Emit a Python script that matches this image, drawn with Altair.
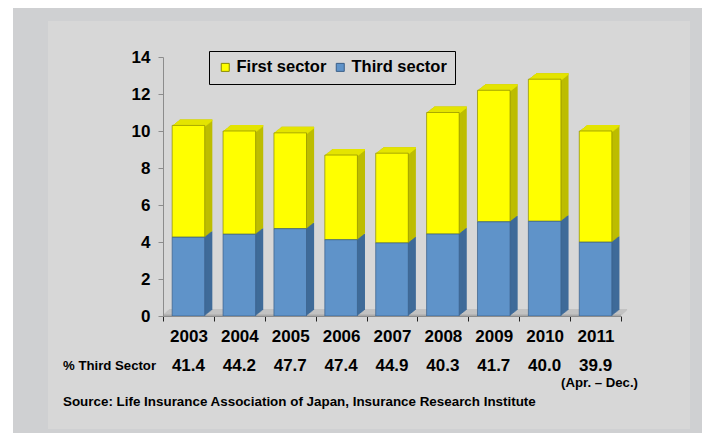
import altair as alt
import pandas as pd

# ---- data ----
years = ["2003", "2004", "2005", "2006", "2007", "2008", "2009", "2010", "2011"]
third_sector = [4.26, 4.42, 4.72, 4.12, 3.95, 4.43, 5.09, 5.12, 3.99]
first_sector = [6.04, 5.58, 5.18, 4.58, 4.85, 6.57, 7.11, 7.68, 6.01]
pct_third = ["41.4", "44.2", "47.7", "47.4", "44.9", "40.3", "41.7", "40.0", "39.9"]
series_names = ["First sector", "Third sector"]
y_ticks = [0, 2, 4, 6, 8, 10, 12, 14]
row_label = "% Third Sector"
note_2011 = "(Apr. – Dec.)"
source_text = "Source: Life Insurance Association of Japan, Insurance Research Institute"

# ---- style ----
W, H = 458, 259
FONT = "Liberation Sans"
OUTER = "#cfd0d2"
INNER = "#d7d7d7"
YELLOW, YELLOW_TOP, YELLOW_SIDE, YELLOW_EDGE = "#ffff00", "#e4e400", "#bdbd00", "#8a8a00"
BLUE, BLUE_SIDE, BLUE_EDGE = "#5f93c9", "#3f6b99", "#3a5f88"
BAR_W = alt.RelativeBandSize(0.64)
N_STEPS = 8
DX, DY = 0.95, 0.75

totals = [t + f for t, f in zip(third_sector, first_sector)]
blue_df = pd.DataFrame({"year": years, "series": "Third sector", "lo": [0.0] * len(years), "hi": third_sector})
yellow_df = pd.DataFrame({"year": years, "series": "First sector", "lo": third_sector, "hi": totals})
seg_df = pd.concat([yellow_df, blue_df], ignore_index=True)
pct_df = pd.DataFrame({"year": years, "pct": pct_third})
one = pd.DataFrame({"a": [0]})

x_enc = alt.X(
    "year:N", sort=years,
    scale=alt.Scale(domain=years, paddingInner=0, paddingOuter=0),
    axis=alt.Axis(title=None, labelAngle=0, tickBand="extent", labelFont=FONT,
                  labelFontSize=17, labelFontWeight="bold", labelColor="black",
                  tickColor="#222222", tickSize=5, domainColor="#8c8c8c",
                  labelPadding=7, zindex=1),
)
y_enc = alt.Y(
    "hi:Q", scale=alt.Scale(domain=[0, 14], nice=False),
    axis=alt.Axis(title=None, values=y_ticks, labelFont=FONT, labelFontSize=17,
                  labelFontWeight="bold", labelColor="black", tickColor="#8c8c8c",
                  tickSize=5, domainColor="#8c8c8c", labelPadding=8, grid=False, zindex=1),
)

layers = []
# backgrounds
layers.append(alt.Chart(one).mark_rect(color=OUTER).encode(
    x=alt.value(-150), x2=alt.value(600), y=alt.value(-49), y2=alt.value(420)))
layers.append(alt.Chart(one).mark_rect(color=INNER).encode(
    x=alt.value(-115), x2=alt.value(527), y=alt.value(-36), y2=alt.value(372)))

# floor
for k in range(N_STEPS, -1, -1):
    layers.append(alt.Chart(one).mark_rect(color="#c2c2c2" if k > 0 else "#a9a9a9").encode(
        x=alt.value(k * DX * 0.8), x2=alt.value(W + k * DX * 0.8),
        y=alt.value(H - k * DY * 0.9 - 1.6), y2=alt.value(H - k * DY * 0.9)))

# extrusions (side faces)
for df, col in [(blue_df, BLUE_SIDE), (yellow_df, YELLOW_SIDE)]:
    for k in range(N_STEPS, 0, -1):
        layers.append(alt.Chart(df).mark_bar(
            width=BAR_W, color=col, xOffset=k * DX, yOffset=-k * DY, y2Offset=-k * DY
        ).encode(x=x_enc, y=y_enc, y2=alt.Y2("lo:Q")))
# top faces
for k in range(N_STEPS, 0, -1):
    layers.append(alt.Chart(yellow_df).mark_bar(
        width=BAR_W, color=YELLOW_TOP, xOffset=k * DX, yOffset=-k * DY, y2Offset=-k * DY + 1.8
    ).encode(x=x_enc, y=y_enc, y2=alt.Y2("hi:Q")))

# front faces
layers.append(alt.Chart(seg_df).mark_bar(width=BAR_W, strokeWidth=0.7).encode(
    x=x_enc, y=y_enc, y2=alt.Y2("lo:Q"),
    color=alt.Color("series:N", scale=alt.Scale(domain=series_names, range=[YELLOW, BLUE]),
                    legend=alt.Legend(
                        title=None, orient="none", legendX=46, legendY=-6,
                        direction="horizontal", symbolType="square", symbolSize=64,
                        symbolStrokeColor="black", symbolStrokeWidth=1,
                        labelFont=FONT, labelFontSize=16.5, labelFontWeight="bold",
                        labelColor="black", labelOffset=3, columnPadding=5,
                        padding=8, strokeColor="black", fillColor=INNER)),
    stroke=alt.Stroke("series:N", scale=alt.Scale(domain=series_names, range=[YELLOW_EDGE, BLUE_EDGE]),
                      legend=None),
))

# percentage row
layers.append(alt.Chart(pct_df).mark_text(
    font=FONT, fontSize=17, fontWeight="bold", color="black", baseline="middle"
).encode(x=x_enc, y=alt.value(309), text="pct:N"))

def free_text(txt, x, y, align, size):
    return alt.Chart(pd.DataFrame({"t": [txt]})).mark_text(
        font=FONT, fontSize=size, fontWeight="bold", color="black",
        baseline="middle", align=align
    ).encode(x=alt.value(x), y=alt.value(y), text="t:N")

layers.append(free_text(row_label, -100, 309, "left", 13.2))
layers.append(free_text(note_2011, 475, 326, "right", 13.2))
layers.append(free_text(source_text, -100, 345, "left", 13.4))

chart = alt.layer(*layers).properties(
    width=W, height=H,
    padding={"left": 155, "top": 49, "right": 81, "bottom": 117},
    autosize=alt.AutoSizeParams(type="none"),
    background="white",
).configure_view(stroke=None)

chart.save("out.html", embed_options={"renderer": "svg", "actions": False})
